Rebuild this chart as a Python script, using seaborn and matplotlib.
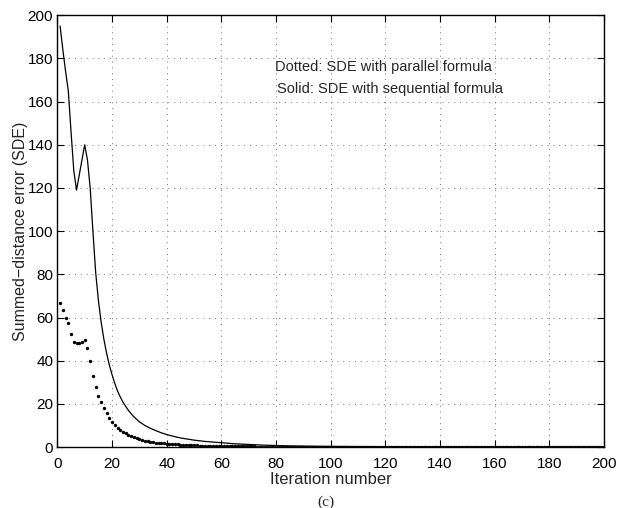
import pandas as pd
import seaborn as sns
import matplotlib.pyplot as plt

# Solid: SDE with sequential formula (read at selected iterations)
solid_iter = list(range(1, 31)) + list(range(32, 61, 2)) + list(range(65, 201, 5))
solid_sde = [195, 184, 174, 165, 146, 128, 119, 126, 133, 140,
             133, 120, 100, 81, 68, 58, 50, 43.5, 38, 33.5,
             29.5, 26, 23.2, 20.8, 18.8, 17, 15.4, 14, 12.8, 11.7,
             10.0, 8.7, 7.6, 6.6, 5.8, 5.1, 4.5, 4.0, 3.6, 3.2,
             2.9, 2.6, 2.4, 2.2, 2.0,
             1.5, 1.2, 0.9, 0.7, 0.55, 0.45, 0.37, 0.3, 0.26, 0.22,
             0.2, 0.18, 0.16, 0.14, 0.13, 0.12, 0.11, 0.1, 0.09, 0.09,
             0.08, 0.08, 0.07, 0.07, 0.06, 0.06, 0.05, 0.05]

# Dotted: SDE with parallel formula (one point per iteration, 1..200)
dotted_iter = list(range(1, 201))
dotted_sde = [66.5, 63.4, 60.0, 57.3, 52.2, 48.5, 48.3, 48.3, 48.8, 49.4,
              46.0, 39.8, 33.0, 27.6, 23.8, 20.7, 17.9, 15.6, 13.6, 11.7,
              10.2, 8.9, 7.9, 7.0, 6.3, 5.6, 5.0, 4.5, 4.0, 3.6,
              3.3, 3.0, 2.7, 2.5, 2.3, 2.1, 1.9, 1.8, 1.7, 1.6,
              1.5, 1.4, 1.3, 1.2, 1.1, 1.0, 0.95, 0.9, 0.85, 0.8,
              0.75, 0.7, 0.66, 0.62, 0.58, 0.55, 0.52, 0.49, 0.46, 0.44,
              0.42, 0.40, 0.38, 0.36, 0.34, 0.32, 0.31, 0.30, 0.29, 0.28,
              0.27, 0.26, 0.25, 0.24, 0.23, 0.22, 0.21, 0.20, 0.19, 0.18,
              0.18, 0.17, 0.17, 0.16, 0.16, 0.15, 0.15, 0.14, 0.14, 0.14,
              0.13, 0.13, 0.13, 0.12, 0.12, 0.12, 0.11, 0.11, 0.11, 0.11,
              0.10, 0.10, 0.10, 0.10, 0.10, 0.09, 0.09, 0.09, 0.09, 0.09,
              0.09, 0.08, 0.08, 0.08, 0.08, 0.08, 0.08, 0.08, 0.07, 0.07,
              0.07, 0.07, 0.07, 0.07, 0.07, 0.07, 0.06, 0.06, 0.06, 0.06,
              0.06, 0.06, 0.06, 0.06, 0.06, 0.06, 0.05, 0.05, 0.05, 0.05,
              0.05, 0.05, 0.05, 0.05, 0.05, 0.05, 0.05, 0.04, 0.04, 0.04,
              0.04, 0.04, 0.04, 0.04, 0.04, 0.04, 0.04, 0.04, 0.04, 0.04,
              0.04, 0.04, 0.03, 0.03, 0.03, 0.03, 0.03, 0.03, 0.03, 0.03,
              0.03, 0.03, 0.03, 0.03, 0.03, 0.03, 0.03, 0.03, 0.03, 0.03,
              0.03, 0.03, 0.03, 0.03, 0.03, 0.03, 0.03, 0.03, 0.03, 0.03,
              0.03, 0.03, 0.03, 0.03, 0.03, 0.03, 0.03, 0.03, 0.03, 0.03]

x_ticks = list(range(0, 201, 20))
y_ticks = list(range(0, 201, 20))

solid_df = pd.DataFrame({'iteration': solid_iter, 'sde': solid_sde})
dotted_df = pd.DataFrame({'iteration': dotted_iter, 'sde': dotted_sde})

sns.set_style("ticks")
plt.rcParams['font.family'] = ['Liberation Sans', 'DejaVu Sans']

fig = plt.figure(figsize=(6.17, 5.08), dpi=100)
ax = fig.add_axes([0.093, 0.12, 0.886, 0.85])

sns.lineplot(data=solid_df, x='iteration', y='sde', color='black', linewidth=0.9, ax=ax)
sns.scatterplot(data=dotted_df, x='iteration', y='sde', color='black', s=6,
                linewidth=0, ax=ax)

ax.set_xlim(0, 200)
ax.set_ylim(0, 200)
ax.set_xticks(x_ticks)
ax.set_yticks(y_ticks)
ax.grid(True, color='0.45', linestyle=(0, (1, 5)), linewidth=0.7)
ax.tick_params(direction='in', length=5, width=0.8, top=True, right=True,
               labelsize=11, colors='black')
ax.tick_params(axis='x', pad=7)
ax.tick_params(axis='y', pad=3)
for sp in ax.spines.values():
    sp.set_visible(True)
    sp.set_color('black')
    sp.set_linewidth(1.0)

ax.set_xlabel('Iteration number', fontsize=12, labelpad=1)
ax.set_ylabel('Summed\u2212distance error (SDE)', fontsize=11.5, labelpad=0)

ax.text(79.5, 176, 'Dotted: SDE with parallel formula', fontsize=10.5, va='center')
ax.text(80.3, 166, 'Solid: SDE with sequential formula', fontsize=10.5, va='center')

fig.text(0.529, 0.012, '(c)', fontsize=11, family='Liberation Serif',
         ha='center', va='center')

fig.savefig('out.png', dpi=100)
